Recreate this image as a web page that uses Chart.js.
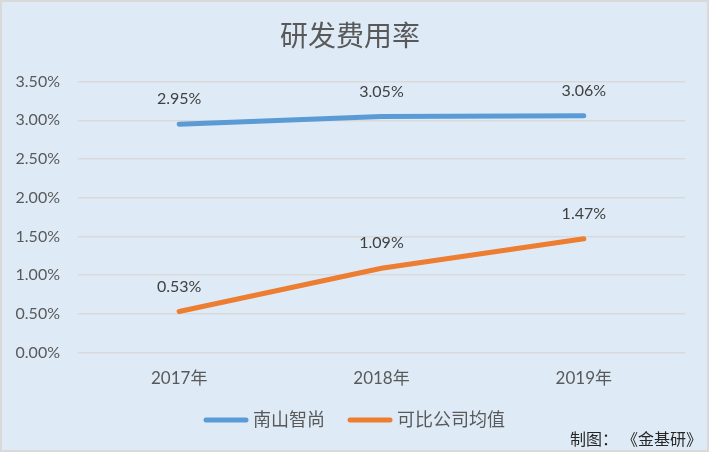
<!DOCTYPE html>
<html>
<head>
<meta charset="utf-8">
<script src="https://cdn.jsdelivr.net/npm/chart.js@4/dist/chart.umd.min.js"></script>
<style>
	html, body { margin: 0; padding: 0; }
	#wrap {
		width: 709px;
		height: 452px;
		box-sizing: border-box;
		border: 2px solid #d9d9d9;
		background: #deebf7;
	}
	#rdChart { display: block; }
</style>
</head>
<body>
<div id="wrap"><canvas id="rdChart" width="705" height="448"></canvas></div>
<script>
const years = ['2017年', '2018年', '2019年']
const nanshan = [0.0295, 0.0305, 0.0306] // 南山智尚
const peerAvg = [0.0053, 0.0109, 0.0147] // 可比公司均值
const yTicks = [0, 0.005, 0.01, 0.015, 0.02, 0.025, 0.03, 0.035]

const FONT = "Lato, 'Noto Sans CJK SC', sans-serif"

const pct = (v) => (v * 100).toFixed(2) + '%'

// value labels above each point
const pointLabels = {
	id: 'pointLabels',
	afterDatasetsDraw(chart) {
		const ctx = chart.ctx
		ctx.save()
		ctx.font = '16px ' + FONT
		ctx.fillStyle = '#404040'
		ctx.textAlign = 'center'
		ctx.textBaseline = 'middle'
		chart.data.datasets.forEach((ds, i) => {
			chart.getDatasetMeta(i).data.forEach((pt, j) => {
				ctx.fillText(pct(ds.data[j]), pt.x, pt.y - 25)
			})
		})
		ctx.restore()
	},
}

// legend + source note at the bottom
const bottomText = {
	id: 'bottomText',
	afterDraw(chart) {
		const ctx = chart.ctx
		const sets = chart.data.datasets
		ctx.save()
		ctx.font = '18px ' + FONT
		ctx.textBaseline = 'middle'
		const lineW = 44, gap = 5, itemGap = 23
		const widths = sets.map((ds) => lineW + gap + ctx.measureText(ds.label).width)
		const total = widths.reduce((a, b) => a + b, 0) + itemGap * (sets.length - 1)
		let x = (chart.width - total) / 2
		const y = 418
		sets.forEach((ds, i) => {
			ctx.strokeStyle = ds.borderColor
			ctx.lineWidth = 5
			ctx.lineCap = 'round'
			ctx.beginPath()
			ctx.moveTo(x + 2, y)
			ctx.lineTo(x + lineW - 2, y)
			ctx.stroke()
			ctx.fillStyle = '#595959'
			ctx.textAlign = 'left'
			ctx.fillText(ds.label, x + lineW + gap, y)
			x += widths[i] + itemGap
		})
		ctx.font = '16px ' + FONT
		ctx.fillStyle = '#262626'
		ctx.textAlign = 'right'
		ctx.fillText('制图： 《金基研》', chart.width - 5, 438)
		ctx.restore()
	},
}

new Chart(document.getElementById('rdChart'), {
	type: 'line',
	data: {
		labels: years,
		datasets: [
			{
				label: '南山智尚',
				data: nanshan,
				borderColor: '#5b9bd5',
				backgroundColor: '#5b9bd5',
				borderWidth: 5,
				borderCapStyle: 'round',
				pointRadius: 0,
				tension: 0,
			},
			{
				label: '可比公司均值',
				data: peerAvg,
				borderColor: '#ed7d31',
				backgroundColor: '#ed7d31',
				borderWidth: 5,
				borderCapStyle: 'round',
				pointRadius: 0,
				tension: 0,
			},
		],
	},
	options: {
		responsive: false,
		animation: false,
		layout: {
			padding: { left: 13, right: 22, top: 0, bottom: 45 },
		},
		plugins: {
			legend: { display: false },
			tooltip: { enabled: false },
			title: {
				display: true,
				text: '研发费用率',
				color: '#595959',
				font: { family: FONT, size: 28, weight: 'normal', lineHeight: 1.2 },
				padding: { top: 18, bottom: 28 },
			},
		},
		scales: {
			x: {
				offset: true,
				grid: { display: false, drawTicks: false },
				border: { display: false },
				ticks: {
					color: '#595959',
					font: { family: FONT, size: 17 },
					padding: 16,
				},
			},
			y: {
				min: 0,
				max: 0.035,
				afterBuildTicks(axis) {
					axis.ticks = yTicks.map((v) => ({ value: v }))
				},
				afterFit(axis) {
					axis.width = 63
				},
				grid: { color: '#d9d9d9', lineWidth: 1.5, drawTicks: false },
				border: { display: false },
				ticks: {
					color: '#595959',
					font: { family: FONT, size: 16 },
					padding: 18,
					callback: (v) => pct(v),
				},
			},
		},
	},
	plugins: [pointLabels, bottomText],
})
</script>
</body>
</html>
